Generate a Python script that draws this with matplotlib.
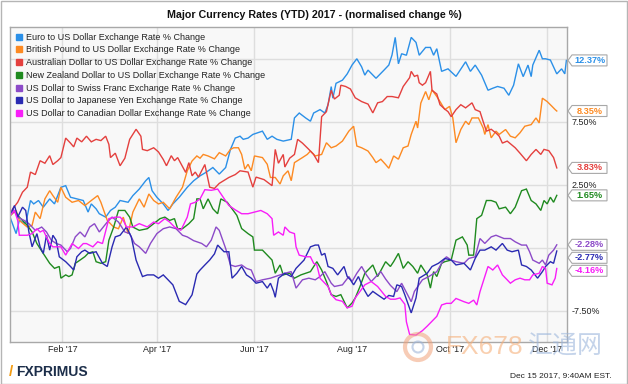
import pandas as pd
import matplotlib
matplotlib.use("Agg")
import matplotlib.pyplot as plt
import matplotlib.dates as mdates
from matplotlib.lines import Line2D
from matplotlib.patches import Rectangle, Polygon, Ellipse

plt.rcParams['font.family'] = ['Liberation Sans', 'DejaVu Sans']

# (days since 2016-12-30, % change)
eur = [(0, 0), (4, -1.39), (6, -0.34), (10, -0.6), (13, 1.24), (15, 0.97), (18, 1.24), (21, 0.71), (25, 1.37),
       (28, 0.97), (32, 2.29), (35, 2.42), (38, 1.5), (42, 1.37), (46, 1.24), (49, 0.32), (51, 0.97), (54, 0.58),
       (56, 0.19), (60, -0.08), (63, 0.45), (66, 0.71), (69, 1.24), (74, 1.1), (77, 1.63), (81, 2.15), (85, 2.81),
       (87, 3.07), (89, 2.02), (92, 1.5), (96, 0.97), (99, 0.45), (102, 0.97), (106, 1.5), (111, 2.29), (115, 2.81),
       (119, 3.2), (123, 3.5), (127, 3.86), (131, 3.34), (135, 3.86), (138, 5.3), (141, 6.2), (144, 6.35), (146, 6.1),
       (149, 6.2), (152, 6.49), (158, 6.75), (161, 6.1), (164, 6.35), (167, 6.1), (171, 5.96), (176, 6.1), (178, 7.8),
       (181, 8.19), (185, 7.8), (188, 7.54), (190, 8.19), (194, 8.46), (197, 8.19), (199, 8.85), (201, 10.29),
       (202, 9.37), (204, 10.55), (208, 10.8), (211, 11.3), (214, 12.0), (217, 12.5), (220, 11.86), (222, 11.2),
       (224, 11.6), (229, 10.95), (234, 11.6), (237, 12.0), (239, 12.8), (241, 14.2), (243, 12.1), (245, 12.9),
       (248, 12.78), (251, 14.2), (254, 13.8), (256, 12.78), (260, 13.4), (263, 13.4), (265, 12.78), (267, 13.3),
       (270, 11.5), (274, 11.7), (279, 11.1), (285, 12.26), (288, 11.5), (291, 12.0), (295, 11.2), (299, 10.0),
       (302, 10.16), (305, 10.3), (309, 10.16), (312, 9.6), (315, 10.4), (318, 12.1), (321, 11.08), (324, 12.0),
       (326, 11.08), (327, 12.0), (331, 13.18), (333, 12.5), (335, 12.5), (338, 12.4), (342, 11.3), (345, 11.7),
       (347, 11.3), (348, 12.37)]

gbp = [(0, 0), (4, 0.45), (6, -0.34), (11, -0.87), (14, -0.73), (16, 0.32), (19, -0.2), (22, 1.37), (25, 2.02),
       (27, 1.63), (30, 1.1), (32, 2.29), (35, 1.5), (39, 1.1), (43, 1.24), (47, 0.84), (51, 1.24), (55, 1.63),
       (57, 1.1), (61, -0.34), (65, -0.87), (68, -1.0), (71, -0.08), (74, -1.39), (77, 0.32), (81, 1.37), (84, 0.71),
       (87, 1.76), (90, 1.24), (93, 0.97), (96, 1.1), (100, 0.58), (104, 1.5), (108, 2.29), (111, 3.6), (114, 4.38),
       (117, 4.78), (119, 4.6), (121, 4.9), (124, 4.78), (128, 4.55), (131, 5.04), (135, 4.78), (138, 5.3),
       (140, 5.43), (143, 5.43), (145, 4.9), (147, 3.73), (149, 4.12), (151, 3.6), (153, 4.78), (158, 4.65),
       (161, 4.12), (163, 3.07), (166, 3.07), (169, 2.55), (171, 3.2), (174, 3.6), (176, 2.81), (178, 4.25),
       (183, 4.65), (186, 4.9), (188, 5.17), (191, 4.78), (195, 4.9), (198, 5.83), (201, 5.43), (204, 5.57),
       (208, 5.96), (212, 6.75), (215, 7.14), (217, 5.57), (220, 5.43), (224, 5.17), (227, 4.65), (229, 4.25),
       (232, 4.52), (235, 4.1), (237, 3.8), (240, 4.78), (243, 4.52), (246, 5.43), (249, 5.57), (251, 6.49),
       (254, 7.54), (255, 7.0), (257, 8.98), (260, 9.9), (262, 9.24), (264, 10.03), (267, 9.5), (269, 9.1),
       (272, 8.46), (275, 8.72), (277, 7.8), (279, 5.83), (282, 6.88), (285, 7.54), (287, 7.27), (289, 7.8),
       (293, 7.8), (296, 7.0), (297, 6.49), (299, 7.27), (301, 6.22), (304, 6.75), (306, 6.49), (310, 6.88),
       (313, 6.35), (316, 6.22), (319, 6.62), (322, 7.14), (326, 7.27), (329, 7.8), (331, 7.4), (333, 9.37),
       (336, 9.1), (339, 8.72), (341, 8.46), (342, 8.35)]

aud = [(0, 0), (2, 0.6), (5, 1.1), (8, 1.9), (11, 2.3), (13, 3.5), (16, 3.3), (19, 4.4), (22, 4.2), (25, 4.8),
       (27, 4.1), (30, 4.4), (32, 4.65), (35, 6.2), (38, 5.8), (40, 5.5), (42, 6.2), (45, 5.9), (48, 6.35), (51, 5.9),
       (54, 6.1), (57, 6.0), (60, 6.35), (62, 5.7), (63, 4.65), (66, 5.0), (69, 4.0), (72, 4.6), (75, 6.1), (79, 6.9),
       (82, 6.35), (83, 5.3), (86, 5.2), (90, 5.43), (93, 5.1), (96, 4.5), (98, 4.0), (101, 4.8), (103, 4.4),
       (105, 4.65), (110, 3.47), (112, 4.25), (114, 3.2), (116, 3.5), (118, 3.1), (122, 4.1), (125, 2.3), (128, 2.2),
       (131, 2.6), (137, 3.07), (141, 3.3), (144, 3.6), (149, 3.5), (152, 2.3), (154, 3.1), (159, 2.9), (164, 2.42),
       (166, 5.3), (168, 4.2), (171, 4.9), (172, 3.9), (175, 4.6), (178, 4.9), (180, 6.1), (183, 5.8), (187, 5.3),
       (190, 4.9), (193, 4.25), (195, 7.9), (198, 8.3), (201, 10.0), (203, 9.3), (206, 9.6), (207, 10.4),
       (210, 10.3), (213, 10.1), (216, 9.4), (220, 9.1), (224, 8.9), (227, 8.2), (230, 9.0), (233, 9.1), (236, 9.5),
       (239, 9.5), (243, 9.4), (246, 10.3), (250, 11.0), (251, 11.5), (253, 11.1), (255, 11.2), (256, 10.6),
       (258, 10.4), (260, 10.6), (263, 11.5), (264, 10.0), (267, 9.7), (269, 8.85), (272, 8.5), (274, 8.3),
       (276, 7.9), (279, 8.46), (282, 8.85), (285, 8.6), (289, 9.0), (291, 8.46), (294, 8.3), (296, 7.5),
       (298, 6.75), (301, 6.9), (304, 6.6), (306, 6.35), (308, 5.8), (311, 5.96), (316, 5.43), (319, 5.0),
       (323, 4.4), (326, 4.9), (329, 5.3), (332, 4.9), (334, 5.3), (337, 5.2), (340, 4.65), (342, 3.83)]

nzd = [(0, 0), (3, 0.45), (6, -0.08), (11, -0.73), (14, -1.26), (17, -2.18), (21, -2.97), (25, -3.75), (28, -4.15),
       (31, -4.0), (32, -4.93), (35, -4.67), (37, -4.8), (39, -4.67), (41, -3.75), (44, -3.49), (47, -3.22),
       (49, -2.96), (52, -2.83), (54, -3.62), (57, -3.75), (60, -3.62), (62, -1.91), (65, -0.87), (68, 0.45),
       (72, 0.45), (75, -0.08), (77, -0.87), (81, -1.13), (86, -1.0), (90, -0.6), (94, -0.2), (97, -0.08),
       (100, -0.34), (103, -0.2), (105, -1.0), (108, -1.0), (112, -0.6), (115, -0.2), (117, 1.37), (119, 1.37),
       (121, 0.58), (124, 1.37), (127, 0.58), (130, 0.19), (132, 1.37), (136, 1.1), (139, 0.58), (142, 0.06),
       (145, -0.99), (149, -1.39), (152, -1.65), (153, -2.7), (158, -2.7), (164, -3.49), (166, -4.54), (169, -3.88),
       (171, -4.67), (175, -4.54), (178, -4.93), (182, -4.67), (188, -4.41), (192, -3.62), (195, -4.28),
       (198, -5.2), (201, -6.24), (204, -6.38), (207, -6.24), (211, -7.29), (214, -6.9), (216, -6.5), (219, -5.59),
       (222, -4.54), (225, -4.15), (227, -3.88), (230, -4.8), (235, -3.62), (238, -4.0), (240, -3.62), (243, -2.96),
       (246, -4.15), (249, -3.62), (252, -4.0), (255, -4.54), (257, -3.88), (261, -4.67), (263, -5.72),
       (265, -4.41), (267, -4.8), (270, -3.75), (272, -3.62), (276, -3.49), (279, -1.91), (283, -1.65), (286, -2.3),
       (287, -3.1), (290, -3.1), (292, -0.2), (295, 0.06), (298, 1.24), (301, 1.24), (304, 1.1), (306, 0.58),
       (310, 0.71), (313, 0.19), (316, 0.71), (320, 2.02), (323, 2.15), (326, 1.24), (329, 0.97), (332, 0.45),
       (334, 1.24), (336, 0.97), (338, 1.5), (340, 1.1), (342, 1.65)]

chf = [(0, 0), (2, 0.58), (5, -0.08), (9, -0.34), (12, -0.6), (16, -1.13), (20, -0.87), (23, -1.26), (26, -1.91),
       (29, -2.17), (32, -2.3), (36, -2.83), (38, -2.57), (41, -1.65), (44, -1.26), (47, -1.65), (50, -0.87),
       (53, -0.6), (56, -1.26), (61, -0.47), (64, -0.08), (68, -0.47), (72, -1.26), (75, -1.39), (78, -2.17),
       (81, -2.44), (85, -2.96), (88, -2.17), (92, -1.39), (96, -1.0), (100, -0.86), (104, -1.0), (108, -1.52),
       (111, -1.65), (115, -1.95), (120, -2.17), (123, -2.44), (126, -1.91), (129, -0.86), (131, -1.13),
       (135, -2.57), (138, -3.88), (141, -4.0), (145, -3.88), (148, -4.15), (151, -4.28), (154, -5.2), (158, -5.06),
       (163, -4.93), (166, -4.8), (169, -4.67), (172, -4.54), (176, -4.41), (179, -5.72), (183, -5.06),
       (187, -4.93), (191, -5.06), (194, -4.8), (197, -4.41), (201, -5.33), (203, -5.59), (208, -5.46), (212, -4.8),
       (214, -5.2), (217, -4.54), (220, -4.0), (223, -4.67), (226, -5.2), (229, -4.8), (232, -4.41), (235, -5.0),
       (238, -5.5), (242, -6.0), (245, -5.33), (251, -6.8), (253, -5.98), (258, -5.06), (262, -4.8), (267, -4.41),
       (270, -3.75), (273, -3.23), (276, -3.49), (279, -3.62), (284, -3.75), (287, -3.36), (291, -3.23),
       (294, -1.78), (297, -2.17), (301, -1.65), (304, -1.52), (309, -1.78), (313, -1.78), (316, -2.04),
       (320, -2.3), (323, -2.3), (325, -2.83), (327, -3.49), (331, -3.75), (333, -3.49), (335, -3.88), (337, -3.1),
       (340, -2.7), (342, -2.28)]

jpy = [(0, 0), (3, 0.84), (5, -0.08), (8, 0.71), (10, 0.45), (12, -1.26), (14, -2.44), (17, -1.39), (19, -2.44),
       (21, -2.96), (23, -1.52), (25, -2.7), (27, -1.52), (29, -1.91), (31, -3.23), (35, -3.62), (38, -4.0),
       (40, -4.28), (42, -3.23), (45, -2.83), (47, -2.7), (50, -2.96), (54, -2.83), (58, -3.75), (61, -4.0),
       (64, -2.44), (66, -1.65), (69, -1.52), (73, -0.87), (76, -1.65), (79, -3.49), (83, -4.8), (86, -4.67),
       (90, -4.67), (93, -4.93), (96, -4.67), (99, -5.06), (102, -5.46), (106, -6.77), (110, -7.03), (114, -6.25),
       (117, -4.6), (119, -4.28), (122, -3.88), (125, -3.49), (128, -3.0), (130, -2.3), (134, -2.83), (137, -2.83),
       (139, -4.93), (142, -4.54), (145, -4.0), (148, -4.67), (151, -4.93), (154, -5.33), (158, -5.2), (161, -5.72),
       (163, -5.33), (165, -5.98), (166, -6.45), (168, -4.93), (172, -4.54), (176, -4.8), (179, -4.15),
       (184, -3.49), (188, -2.44), (191, -2.3), (193, -2.3), (195, -3.1), (197, -2.96), (199, -4.0), (202, -4.15),
       (205, -4.67), (209, -4.0), (211, -4.8), (213, -5.06), (215, -5.46), (218, -4.8), (221, -5.72), (224, -6.38),
       (227, -5.98), (230, -6.25), (234, -6.6), (237, -6.3), (240, -6.38), (242, -5.46), (245, -5.59), (247, -6.25),
       (251, -7.69), (254, -6.5), (256, -4.93), (261, -4.54), (264, -4.0), (268, -3.75), (272, -3.36), (276, -3.49),
       (279, -3.88), (284, -3.75), (288, -4.28), (291, -3.36), (294, -2.7), (297, -2.7), (299, -2.57), (301, -2.44),
       (304, -2.7), (308, -2.17), (311, -2.7), (314, -2.83), (318, -2.7), (320, -3.88), (323, -4.0), (326, -4.28),
       (330, -4.93), (333, -4.41), (335, -4.0), (338, -3.62), (340, -3.75), (342, -2.77)]

cad = [(0, 0), (3, 0.45), (5, -0.34), (6, -1.52), (11, -1.52), (14, -1.39), (17, -1.0), (19, -1.26), (21, -1.13),
       (25, -2.18), (27, -2.44), (32, -2.44), (35, -3.1), (39, -2.18), (43, -2.57), (46, -2.18), (48, -2.18),
       (52, -2.44), (55, -2.04), (58, -2.18), (62, -0.2), (66, -0.08), (69, -0.08), (71, -0.34), (73, -0.86),
       (77, -0.86), (81, -0.6), (86, -0.86), (90, -0.47), (93, -0.6), (97, -0.2), (100, -0.47), (103, -0.86),
       (107, -1.13), (111, -0.08), (113, 0.97), (116, 1.1), (119, 1.37), (122, 2.1), (126, 2.05), (130, 2.15),
       (134, 1.4), (137, 0.85), (141, 0.5), (145, 0.19), (149, 0.19), (153, 0.32), (157, 0.45), (161, 0.19),
       (164, -0.2), (165, -1.52), (168, -1.26), (171, -1.52), (172, -0.86), (175, -1.26), (178, -1.39),
       (179, -2.44), (181, -3.1), (185, -3.23), (188, -3.23), (190, -3.75), (192, -3.88), (194, -4.93), (197, -5.33),
       (199, -5.59), (201, -6.24), (204, -6.64), (208, -6.77), (211, -7.29), (214, -7.16), (216, -6.5), (219, -5.98),
       (222, -5.46), (226, -5.2), (230, -5.59), (235, -6.38), (238, -6.6), (241, -6.6), (244, -6.5), (247, -7.0),
       (248, -8.4), (250, -9.4), (254, -9.45), (258, -9.1), (261, -8.74), (264, -8.35), (267, -7.96), (270, -7.06),
       (273, -6.93), (276, -6.93), (279, -6.54), (284, -6.8), (287, -6.93), (290, -6.67), (292, -7.06), (294, -6.0),
       (297, -4.8), (299, -4.0), (302, -4.28), (305, -3.88), (308, -4.67), (311, -5.06), (313, -5.33), (316, -5.06),
       (319, -4.93), (322, -5.06), (325, -5.06), (327, -4.67), (331, -4.54), (333, -4.0), (335, -4.15), (336, -5.33),
       (339, -5.46), (341, -4.93), (342, -4.16)]

names = ["Euro to US Dollar Exchange Rate % Change",
         "British Pound to US Dollar Exchange Rate % Change",
         "Australian Dollar to US Dollar Exchange Rate % Change",
         "New Zealand Dollar to US Dollar Exchange Rate % Change",
         "US Dollar to Swiss Franc Exchange Rate % Change",
         "US Dollar to Japanese Yen Exchange Rate % Change",
         "US Dollar to Canadian Dollar Exchange Rate % Change"]
series = [eur, gbp, aud, nzd, chf, jpy, cad]
colors = ['#2b90e8', '#fd8a22', '#e4403e', '#1f8a1f', '#8c4ac8', '#2a2ab2', '#f81ef8']

start = pd.Timestamp('2016-12-30')
W, H = 628, 384

fig = plt.figure(figsize=(W / 100, H / 100), dpi=100)
fig.patch.set_facecolor('white')
ax = fig.add_axes([9.7 / W, 1 - 342 / H, (566.7 - 9.7) / W, (342 - 27.3) / H])
ax.set_facecolor('#f8f8f8')

for s, c in zip(series, colors):
    d = start + pd.to_timedelta([p[0] for p in s], unit='D')
    ax.plot(d, [p[1] for p in s], color=c, lw=1.0, solid_joinstyle='miter')

ax.set_xlim(start, start + pd.Timedelta(days=348.2))
ax.set_ylim(-10, 15)
ax.xaxis.set_major_locator(mdates.MonthLocator(bymonth=[2, 4, 6, 8, 10, 12]))
ax.xaxis.set_major_formatter(mdates.DateFormatter("%b '%y"))
ax.yaxis.tick_right()
ax.set_yticks([-7.5, -2.5, 2.5, 7.5, 12.5])
ax.set_yticklabels(['-7.50%', '', '2.50%', '7.50%', ''])
ax.tick_params(axis='both', length=0, labelsize=6.4, colors='#222222')
ax.tick_params(axis='x', pad=2.5)
ax.tick_params(axis='y', pad=3.5)
ax.grid(True, color='#dedede', lw=1.0)
for sp in ax.spines.values():
    sp.set_color('#a8a8a8')
    sp.set_linewidth(1.0)

handles = [Line2D([], [], ls='none', marker='s', ms=4.3, color=c) for c in colors]
leg = ax.legend(handles, names, loc='upper left', bbox_to_anchor=(0.002, 1.0), frameon=False,
                fontsize=6.45, handlelength=0.6, handletextpad=0.45, labelspacing=0.42, borderaxespad=0.2)
for t in leg.get_texts():
    t.set_color('#222222')

# end-value tags on the right, pushed apart so they do not overlap
tag_y = [ax.transData.transform((0, s[-1][1]))[1] for s in series]
order = sorted(range(len(series)), key=lambda i: -tag_y[i])
gap = 13
for k in range(1, len(order)):
    prev, cur = order[k - 1], order[k]
    if tag_y[prev] - tag_y[cur] < gap:
        tag_y[cur] = tag_y[prev] - gap

for s, c, yp in zip(series, colors, tag_y):
    v = s[-1][1]
    x0 = 568
    pts = [(x0, yp), (x0 + 4, yp + 5.5), (x0 + 39, yp + 5.5), (x0 + 39, yp - 5.5), (x0 + 4, yp - 5.5)]
    fig.patches.append(Polygon([(px / W, py / H) for px, py in pts], closed=True, transform=fig.transFigure,
                               facecolor='white', edgecolor='#a8a8a8', lw=0.8, zorder=5))
    fig.text((x0 + 21.5) / W, yp / H, f"{v:.2f}%", color=c, fontsize=6.6, fontweight='bold',
             ha='center', va='center', zorder=6)

fig.text(314 / W, 1 - 15 / H, "Major Currency Rates (YTD) 2017 - (normalised change %)",
         ha='center', va='center', fontsize=7.7, fontweight='bold', color='#111111')

# watermark
fig.patches.append(Ellipse((418 / W, 1 - 347 / H), 26 / W, 26 / H, transform=fig.transFigure,
                           fill=False, edgecolor='#f2a27a', lw=3, alpha=0.55))
fig.patches.append(Ellipse((418 / W, 1 - 347 / H), 11 / W, 11 / H, transform=fig.transFigure,
                           fill=False, edgecolor='#9fb6da', lw=1.5, alpha=0.6))
fig.text(446 / W, 1 - 347 / H, "FX678", color='#f6b07a', alpha=0.6, fontsize=19, ha='left', va='center')
fig.text(528 / W, 1 - 347 / H, "汇通网", color='#9db7dc', alpha=0.6, fontsize=18, ha='left', va='center',
         family=['Noto Sans CJK SC', 'DejaVu Sans'])

# footer
fig.text(9 / W, 1 - 372 / H, "/", color='#f39c12', fontsize=11, fontweight='bold', ha='left', va='center')
fig.text(16 / W, 1 - 372 / H, "FXPRIMUS", color='#1c2e4a', fontsize=10, fontweight='bold', ha='left', va='center')
fig.text(612 / W, 1 - 376 / H, "Dec 15 2017, 9:40AM EST.", color='#222222', fontsize=6, ha='right', va='center')

fig.patches.append(Rectangle((0.5 / W, 0.5 / H), (W - 1.5) / W, (H - 1.5) / H, transform=fig.transFigure,
                             fill=False, edgecolor='#b5b5b5', lw=1.0))

fig.savefig('out.png', dpi=100)
